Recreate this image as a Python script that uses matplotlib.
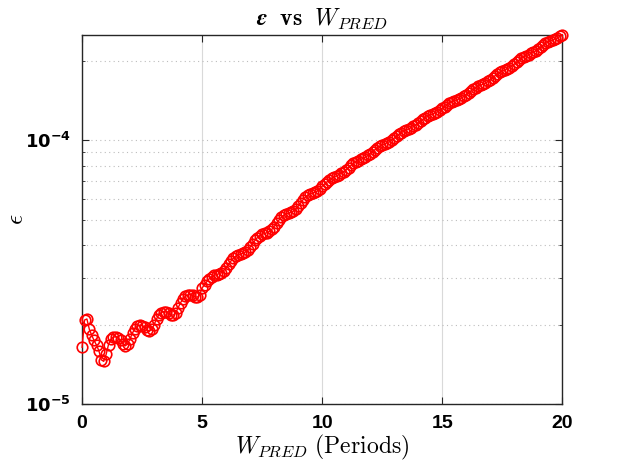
import numpy as np
import matplotlib
matplotlib.use("Agg")
import matplotlib.pyplot as plt
from matplotlib.ticker import LogLocator, NullFormatter, FixedLocator

# W_PRED in periods, 0 .. 20 step 0.1
w_pred = np.arange(0, 201) / 10.0

# epsilon, in units of 1e-5
eps_e5 = [
    1.64, 2.08, 2.10, 1.92, 1.82, 1.74, 1.67, 1.59, 1.47, 1.45,
    1.54, 1.68, 1.76, 1.79, 1.80, 1.78, 1.74, 1.69, 1.66, 1.69,
    1.77, 1.86, 1.93, 1.97, 1.99, 1.98, 1.95, 1.91, 1.89, 1.92,
    2.00, 2.10, 2.18, 2.22, 2.24, 2.23, 2.21, 2.18, 2.17, 2.22,
    2.32, 2.42, 2.50, 2.56, 2.59, 2.60, 2.58, 2.55, 2.54, 2.60,
    2.754, 2.834, 2.914, 2.988, 3.041, 3.073, 3.095, 3.117, 3.151, 3.207,
    3.289, 3.384, 3.483, 3.572, 3.636, 3.676, 3.702, 3.729, 3.769, 3.838,
    3.936, 4.051, 4.169, 4.275, 4.352, 4.399, 4.431, 4.462, 4.511, 4.592,
    4.710, 4.845, 4.984, 5.110, 5.200, 5.256, 5.293, 5.331, 5.388, 5.485,
    5.623, 5.783, 5.947, 6.095, 6.202, 6.268, 6.313, 6.357, 6.424, 6.541,
    6.699, 6.827, 6.956, 7.077, 7.181, 7.266, 7.340, 7.415, 7.500, 7.610,
    7.745, 7.887, 8.033, 8.169, 8.286, 8.380, 8.460, 8.544, 8.641, 8.764,
    8.913, 9.068, 9.228, 9.376, 9.502, 9.605, 9.694, 9.786, 9.890, 10.023,
    10.186, 10.361, 10.539, 10.708, 10.849, 10.962, 11.064, 11.166, 11.285, 11.434,
    11.61, 11.81, 12.01, 12.20, 12.36, 12.49, 12.60, 12.71, 12.85, 13.01,
    13.21, 13.42, 13.63, 13.83, 14.00, 14.13, 14.25, 14.37, 14.51, 14.68,
    14.89, 15.15, 15.41, 15.66, 15.86, 16.03, 16.18, 16.33, 16.50, 16.72,
    16.98, 17.29, 17.59, 17.88, 18.13, 18.32, 18.50, 18.68, 18.88, 19.14,
    19.45, 19.79, 20.14, 20.46, 20.74, 20.97, 21.16, 21.36, 21.59, 21.88,
    22.23, 22.59, 22.96, 23.31, 23.60, 23.83, 24.04, 24.26, 24.50, 24.80,
    25.18,
]
eps = np.array(eps_e5) * 1e-5

x_ticks = [0, 5, 10, 15, 20]
y_ticks = [1e-5, 1e-4]
y_tick_labels = [r"$\mathbf{10^{-5}}$", r"$\mathbf{10^{-4}}$"]

plt.rcParams["mathtext.fontset"] = "cm"
plt.rcParams["font.family"] = ["Liberation Sans", "DejaVu Sans"]

fig = plt.figure(figsize=(6.22, 4.68), dpi=100)
ax = fig.add_axes([0.132, 0.137, 0.772, 0.789])

ax.plot(w_pred, eps, "-o", color="red", mfc="none", mec="red",
        ms=7.6, mew=1.2, lw=1.0, clip_on=False, zorder=5)

ax.set_yscale("log")
ax.set_xlim(0, 20)
ax.set_ylim(1e-5, eps.max())

ax.xaxis.set_major_locator(FixedLocator(x_ticks))
ax.yaxis.set_major_locator(FixedLocator(y_ticks))
ax.set_yticklabels(y_tick_labels)
ax.yaxis.set_minor_locator(LogLocator(base=10, subs=np.arange(2, 10)))
ax.yaxis.set_minor_formatter(NullFormatter())

ax.grid(axis="x", which="major", color="#d9d9d9", lw=0.8, ls="-")
ax.grid(axis="y", which="both", color="#bdbdbd", lw=0.8, ls=(0, (1, 3)))
ax.set_axisbelow(True)

for s in ax.spines.values():
    s.set_color("#262626")
    s.set_linewidth(1.0)

ax.tick_params(which="both", direction="in", top=True, right=True,
               colors="#262626", labelcolor="black")
ax.tick_params(which="major", length=5, width=0.8, labelsize=14, pad=8)
ax.tick_params(which="minor", length=2.5, width=0.6)
for lbl in ax.get_xticklabels():
    lbl.set_fontweight("bold")
for lbl in ax.get_yticklabels():
    lbl.set_math_fontfamily("dejavusans")
    lbl.set_fontsize(13)

ax.set_xlabel(r"$W_{PRED}\ \mathrm{(Periods)}$", fontsize=17, labelpad=1)
ax.set_ylabel(r"$\epsilon$", fontsize=18)
ax.yaxis.set_label_coords(-0.112, 0.5)
ax.set_title(r"$\boldsymbol{\epsilon}$  $\mathbf{vs}$  $\boldsymbol{W_{PRED}}$",
             fontsize=17, pad=7)

fig.savefig("out.png", dpi=100)
